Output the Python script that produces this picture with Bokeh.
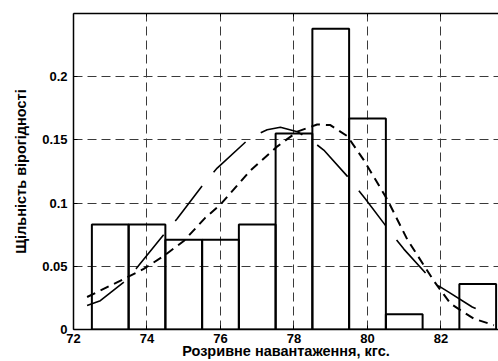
from bokeh.plotting import figure
from bokeh.models import Range1d, FixedTicker, LinearAxis
from bokeh.embed import file_html
from bokeh.resources import INLINE

# ---- data ----
bin_left = [72.5, 73.5, 74.5, 75.5, 76.5, 77.5, 78.5, 79.5, 80.5, 81.5, 82.5]
bin_right = [73.5, 74.5, 75.5, 76.5, 77.5, 78.5, 79.5, 80.5, 81.5, 82.5, 83.5]
density = [0.083, 0.083, 0.071, 0.071, 0.083, 0.155, 0.238, 0.167, 0.012, 0.0, 0.036]

kde_x = [72.37, 72.73, 73.37, 73.73, 74.46, 74.82, 75.59, 75.91, 76.82, 77.27, 77.63,
         78.09, 78.45, 78.81, 79.49, 79.95, 80.67, 80.99, 81.85, 82.21, 82.85, 83.3]
kde_y = [0.019, 0.0228, 0.0374, 0.049, 0.0753, 0.0877, 0.117, 0.1277, 0.152, 0.158, 0.160,
         0.1565, 0.150, 0.142, 0.12, 0.103, 0.0754, 0.0636, 0.036, 0.0296, 0.0178, 0.0118]

fit_x = [72.37, 73.37, 73.91, 74.46, 75.0, 75.59, 76.0, 76.82, 77.54, 78.09, 78.63,
         78.99, 79.45, 79.9, 80.54, 81.08, 81.8, 82.26, 82.89, 83.44]
fit_y = [0.0257, 0.040, 0.0479, 0.0583, 0.070, 0.0885, 0.0989, 0.126, 0.1447, 0.1565, 0.1622,
         0.1617, 0.153, 0.134, 0.1028, 0.0714, 0.0387, 0.0204, 0.0086, 0.0034]

x_ticks = [72, 74, 76, 78, 80, 82]
y_ticks = [0, 0.05, 0.1, 0.15, 0.2]
y_tick_labels = ["0", "0.05", "0.1", "0.15", "0.2"]
x_title = "Розривне навантаження, кгс."
y_title = "Щільність вірогідності"

FONT = "Liberation Sans"

p = figure(width=498, height=361, output_backend="svg", toolbar_location=None,
           x_range=Range1d(72, 83.565), y_range=Range1d(0, 0.25),
           min_border_left=73, min_border_right=0, min_border_top=13, min_border_bottom=30)
p.outline_line_color = None
p.background_fill_color = "white"
p.border_fill_color = "white"

# grid
for g in (p.xgrid, p.ygrid):
    g.grid_line_color = "#3a3a3a"
    g.grid_line_alpha = 1.0
    g.grid_line_dash = "9 5"
    g.grid_line_width = 1
p.xgrid.ticker = FixedTicker(ticks=x_ticks)
p.ygrid.ticker = FixedTicker(ticks=y_ticks)

# histogram (unfilled bars)
p.quad(left=bin_left, right=bin_right, top=density, bottom=0,
       fill_color=None, line_color="black", line_width=2)

# curves
p.line(kde_x, kde_y, line_color="black", line_width=1.6, line_dash="44 18")
p.line(fit_x, fit_y, line_color="black", line_width=2, line_dash="9 6")

# axes
xa = p.xaxis[0]
xa.ticker = FixedTicker(ticks=x_ticks)
ya = p.yaxis[0]
ya.ticker = FixedTicker(ticks=y_ticks)
ya.major_label_overrides = {t: l for t, l in zip(y_ticks, y_tick_labels)}

for ax in (xa, ya):
    ax.axis_line_color = "black"
    ax.axis_line_width = 1.5
    ax.major_tick_in = 4
    ax.major_tick_out = 0
    ax.minor_tick_line_color = None
    ax.major_tick_line_color = "black"
    ax.major_label_text_font = FONT
    ax.major_label_text_font_style = "bold"
    ax.major_label_text_font_size = "13px"
    ax.major_label_text_color = "black"
    ax.axis_label_text_font = FONT
    ax.axis_label_text_font_style = "bold"
    ax.axis_label_text_font_size = "14.5px"
    ax.axis_label_text_color = "black"

xa.axis_label = x_title
xa.major_label_standoff = 4
xa.axis_label_standoff = -3
ya.axis_label = y_title
ya.major_label_standoff = 6
ya.axis_label_standoff = 10

top = LinearAxis(ticker=FixedTicker(ticks=x_ticks))
top.axis_line_color = "black"
top.axis_line_width = 1.5
top.major_tick_in = 3
top.major_tick_out = 0
top.minor_tick_line_color = None
top.major_label_text_font_size = "1px"
top.major_label_text_color = None
top.major_label_standoff = 0
p.add_layout(top, "above")

open("out.html", "w").write(file_html(p, INLINE))
